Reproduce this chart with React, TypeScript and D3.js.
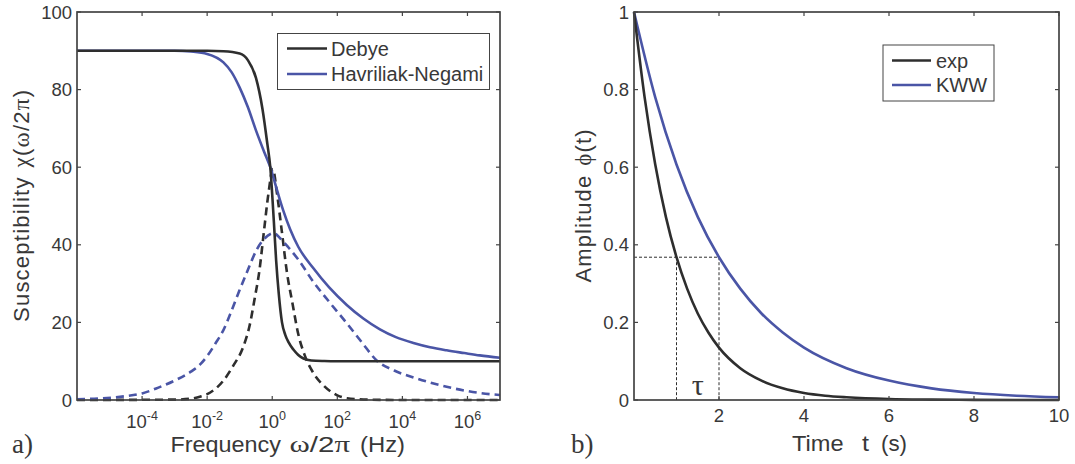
import React from "react";
import * as d3 from "d3";

// ---------- data ----------
// Left panel: x = log10(frequency / Hz), y = susceptibility
const debyeReal: [number, number][] = [
  [-6, 90], [-2, 90], [-1.5, 89.9], [-1, 89.3], [-0.75, 87.6], [-0.5, 83], [-0.3, 75],
  [-0.15, 66], [-0.06, 60], [0.05, 46], [0.12, 36], [0.2, 27.5], [0.3, 20], [0.4, 16.8],
  [0.5, 14.9], [0.65, 13.0], [0.8, 11.6], [0.96, 10.7], [1.2, 10.2], [1.6, 10.05], [2, 10], [7, 10],
];
const debyeImag: [number, number][] = [
  [-6, 0], [-3, 0.1], [-2.5, 0.35], [-2.2, 0.9], [-2, 1.5], [-1.5, 5.0], [-1.2, 8.8],
  [-0.89, 13.7], [-0.7, 19], [-0.53, 26.6], [-0.4, 33], [-0.25, 43.8], [-0.12, 53],
  [0.02, 59.5], [0.15, 53], [0.29, 43.8], [0.45, 33], [0.62, 25], [0.8, 17], [1.0, 11.5],
  [1.3, 6.5], [1.57, 3.8], [2.0, 1.2], [2.3, 0.45], [3, 0.1], [4, 0], [7, 0],
];
const hnReal: [number, number][] = [
  [-6, 90], [-3, 90], [-2.5, 89.8], [-2, 89.2], [-1.5, 87], [-1.25, 84.5], [-1, 80.5],
  [-0.75, 75.5], [-0.5, 69.5], [-0.25, 64], [-0.06, 60], [0.15, 54], [0.34, 48.8],
  [0.55, 44], [0.8, 39.5], [1.26, 34], [1.75, 29], [2.29, 24.5], [2.8, 21], [3.31, 18.2],
  [3.8, 16.2], [4.34, 14.7], [4.85, 13.6], [5.36, 12.8], [5.9, 12.1], [6.38, 11.5], [7, 10.9],
];
const hnImag: [number, number][] = [
  [-6, 0.2], [-5.3, 0.4], [-4.5, 1.0], [-4, 1.7], [-3.5, 3.2], [-3, 5.0], [-2.5, 7.3],
  [-2.2, 9.3], [-2, 11.3], [-1.75, 14.5], [-1.5, 18], [-1.25, 23], [-1, 28.4],
  [-0.75, 33.5], [-0.48, 38.7], [-0.25, 41.5], [0.05, 43], [0.24, 41.7], [0.5, 39.3],
  [0.8, 36.2], [1.26, 30.5], [1.75, 25.3], [2.29, 19.8], [2.75, 14.9], [3.21, 10.2],
  [3.75, 7.6], [4.34, 5.8], [4.85, 4.5], [5.36, 3.4], [6.38, 1.8], [7, 1.3],
];
const leftXTickExps = [-4, -2, 0, 2, 4, 6];
const leftYTicks = [0, 20, 40, 60, 80, 100];
const leftLegend = ["Debye", "Havriliak-Negami"];

// Right panel: x = time t (s), y = amplitude
const expDecay: [number, number][] = [
  [0, 1], [0.25, 0.78], [0.5, 0.607], [0.75, 0.472], [1, 0.368], [1.25, 0.287],
  [1.5, 0.223], [1.75, 0.174], [2, 0.135], [2.5, 0.082], [3, 0.05], [3.5, 0.03],
  [4, 0.018], [4.5, 0.011], [5, 0.007], [6, 0.0025], [7, 0.001], [8, 0.0003], [10, 0],
];
const kwwDecay: [number, number][] = [
  [0, 1], [0.5, 0.78], [1, 0.607], [1.5, 0.472], [2, 0.368], [2.5, 0.287], [3, 0.223],
  [3.5, 0.174], [4, 0.135], [5, 0.082], [6, 0.05], [7, 0.03], [8, 0.018], [9, 0.011],
  [10, 0.007],
];
const tauLevel = 0.368;
const tauTimes = [1, 2];
const rightXTicks = [2, 4, 6, 8, 10];
const rightYTicks = [0, 0.2, 0.4, 0.6, 0.8, 1];
const rightYTickLabels = ["0", "0.2", "0.4", "0.6", "0.8", "1"];
const rightLegend = ["exp", "KWW"];

// ---------- styles ----------
const BLACK = "#2e2e2e";
const BLUE = "#4a55a6";
const AXIS = "#444444";
const TEXT = "#383838";
const SANS = "'Liberation Sans', Arial, Helvetica, sans-serif";
const SERIF = "'Liberation Serif', 'Times New Roman', serif";
const TICK_FS = 18.5;
const LABEL_FS = 22;
const LEG_FS = 20;
const LW = 2.6;

export default function App() {
  const xL = d3.scaleLog().domain([1e-6, 1e7]).range([77, 500]);
  const yL = d3.scaleLinear().domain([0, 100]).range([400, 12]);
  const lineL = d3
    .line<[number, number]>()
    .x((d) => xL(Math.pow(10, d[0])))
    .y((d) => yL(d[1]))
    .curve(d3.curveMonotoneX);

  const xR = d3.scaleLinear().domain([0, 10]).range([634, 1059]);
  const yR = d3.scaleLinear().domain([0, 1]).range([400, 12]);
  const lineR = d3
    .line<[number, number]>()
    .x((d) => xR(d[0]))
    .y((d) => yR(d[1]))
    .curve(d3.curveMonotoneX);

  const TL = 4;

  const box = (x0: number, x1: number, y0: number, y1: number) => (
    <rect x={x0} y={y1} width={x1 - x0} height={y0 - y1} fill="none" stroke={AXIS} strokeWidth={1.7} />
  );

  const [lx0, lx1] = xL.range();
  const [ly0, ly1] = yL.range();
  const [rx0, rx1] = xR.range();
  const [ry0, ry1] = yR.range();

  const piece = (
    key: string,
    x: number,
    y: number,
    len: number,
    content: React.ReactNode,
    family: string = SANS
  ) => (
    <text
      key={key}
      x={x}
      y={y}
      fontSize={LABEL_FS}
      fontFamily={family}
      fill={TEXT}
      textLength={len}
      lengthAdjust="spacingAndGlyphs"
    >
      {content}
    </text>
  );

  return (
    <svg
      width={1075}
      height={464}
      style={{ position: "absolute", left: 0, top: 0, background: "#fff" }}
      fontFamily={SANS}
    >
      <rect x={0} y={0} width={1075} height={464} fill="#fff" />

      {/* ================= LEFT PANEL ================= */}
      <g>
        <path d={lineL(debyeImag) || ""} fill="none" stroke={BLACK} strokeWidth={LW} strokeDasharray="8,5" />
        <path d={lineL(hnImag) || ""} fill="none" stroke={BLUE} strokeWidth={LW} strokeDasharray="8,5" />
        <path d={lineL(hnReal) || ""} fill="none" stroke={BLUE} strokeWidth={LW} />
        <path d={lineL(debyeReal) || ""} fill="none" stroke={BLACK} strokeWidth={LW} />

        {box(lx0, lx1, ly0, ly1)}
        {leftXTickExps.map((e) => {
          const x = xL(Math.pow(10, e));
          return (
            <g key={"lx" + e}>
              <line x1={x} x2={x} y1={ly0} y2={ly0 - TL} stroke={AXIS} strokeWidth={1.2} />
              <line x1={x} x2={x} y1={ly1} y2={ly1 + TL} stroke={AXIS} strokeWidth={1.2} />
              <text x={x} y={428} textAnchor="middle" fontSize={TICK_FS} fill={TEXT}>
                10
                <tspan dy={-8} fontSize={12.5}>{String(e)}</tspan>
              </text>
            </g>
          );
        })}
        {leftYTicks.map((v) => {
          const y = yL(v);
          return (
            <g key={"ly" + v}>
              <line x1={lx0} x2={lx0 + TL} y1={y} y2={y} stroke={AXIS} strokeWidth={1.2} />
              <line x1={lx1} x2={lx1 - TL} y1={y} y2={y} stroke={AXIS} strokeWidth={1.2} />
              <text x={72} y={y} dy="0.36em" textAnchor="end" fontSize={TICK_FS} fill={TEXT}>
                {v}
              </text>
            </g>
          );
        })}
        <rect x={277.5} y={33.5} width={212} height={56} fill="#fff" stroke={AXIS} strokeWidth={1} />
        {leftLegend.map((name, i) => {
          const y = 48.5 + i * 25.5;
          return (
            <g key={name}>
              <line x1={287} x2={327} y1={y} y2={y} stroke={i === 0 ? BLACK : BLUE} strokeWidth={LW} />
              <text x={331} y={y} dy="0.36em" fontSize={LEG_FS} fill={TEXT}>
                {name}
              </text>
            </g>
          );
        })}
        {/* x label: Frequency ω/2π (Hz) */}
        {piece("f1", 170.5, 452, 110.5, "Frequency")}
        <text x={289.5} y={452} fontSize={LABEL_FS} fill={TEXT} textLength={60.5} lengthAdjust="spacingAndGlyphs">
          <tspan fontFamily={SERIF} fontSize={LABEL_FS + 1}>ω</tspan>
          <tspan>/2</tspan>
          <tspan fontFamily={SERIF} fontSize={LABEL_FS + 1}>π</tspan>
        </text>
        {piece("f3", 360, 452, 45, "(Hz)")}
        {/* y label */}
        <text
          transform={`translate(29, ${(ly0 + ly1) / 2}) rotate(-90)`}
          textAnchor="middle"
          fontSize={LABEL_FS}
          fill={TEXT}
          textLength={232}
          lengthAdjust="spacing"
        >
          <tspan>Susceptibility</tspan>
          <tspan dx={9} fontFamily={SERIF} fontSize={LABEL_FS + 1}>χ</tspan>
          <tspan>(</tspan>
          <tspan fontFamily={SERIF} fontSize={LABEL_FS + 1}>ω</tspan>
          <tspan>/2</tspan>
          <tspan fontFamily={SERIF} fontSize={LABEL_FS + 1}>π</tspan>
          <tspan>)</tspan>
        </text>
        <text x={12} y={453} fontFamily={SERIF} fontSize={27} fill={TEXT}>
          a)
        </text>
      </g>

      {/* ================= RIGHT PANEL ================= */}
      <g>
        <line
          x1={rx0}
          x2={xR(tauTimes[1])}
          y1={yR(tauLevel)}
          y2={yR(tauLevel)}
          stroke={BLACK}
          strokeWidth={1}
          strokeDasharray="3,2"
        />
        {tauTimes.map((t) => (
          <line
            key={"tau" + t}
            x1={xR(t)}
            x2={xR(t)}
            y1={yR(tauLevel)}
            y2={ry0}
            stroke={BLACK}
            strokeWidth={1}
            strokeDasharray="3,2"
          />
        ))}
        <text
          x={(xR(tauTimes[0]) + xR(tauTimes[1])) / 2}
          y={395}
          textAnchor="middle"
          fontFamily={SERIF}
          fontSize={30}
          fill={TEXT}
        >
          τ
        </text>

        <path d={lineR(kwwDecay) || ""} fill="none" stroke={BLUE} strokeWidth={LW} />
        <path d={lineR(expDecay) || ""} fill="none" stroke={BLACK} strokeWidth={LW} />

        {box(rx0, rx1, ry0, ry1)}
        {rightXTicks.map((v) => {
          const x = xR(v);
          return (
            <g key={"rx" + v}>
              <line x1={x} x2={x} y1={ry0} y2={ry0 - TL} stroke={AXIS} strokeWidth={1.2} />
              <line x1={x} x2={x} y1={ry1} y2={ry1 + TL} stroke={AXIS} strokeWidth={1.2} />
              <text x={x} y={422} textAnchor="middle" fontSize={TICK_FS} fill={TEXT}>
                {v}
              </text>
            </g>
          );
        })}
        {rightYTicks.map((v, i) => {
          const y = yR(v);
          return (
            <g key={"ry" + v}>
              <line x1={rx0} x2={rx0 + TL} y1={y} y2={y} stroke={AXIS} strokeWidth={1.2} />
              <line x1={rx1} x2={rx1 - TL} y1={y} y2={y} stroke={AXIS} strokeWidth={1.2} />
              <text x={629} y={y} dy="0.36em" textAnchor="end" fontSize={TICK_FS} fill={TEXT}>
                {rightYTickLabels[i]}
              </text>
            </g>
          );
        })}
        <rect x={883} y={45} width={111} height={56} fill="#fff" stroke={AXIS} strokeWidth={1} />
        {rightLegend.map((name, i) => {
          const y = 60.5 + i * 24.5;
          return (
            <g key={name}>
              <line x1={892} x2={931} y1={y} y2={y} stroke={i === 0 ? BLACK : BLUE} strokeWidth={LW} />
              <text x={936} y={y} dy="0.36em" fontSize={LEG_FS} fill={TEXT}>
                {name}
              </text>
            </g>
          );
        })}
        {/* x label: Time t (s) */}
        {piece("t1", 792, 451, 51.5, "Time")}
        {piece("t2", 862, 451, 7, "t")}
        {piece("t3", 881, 451, 26, "(s)")}
        <text
          transform={`translate(591, ${(ry0 + ry1) / 2}) rotate(-90)`}
          textAnchor="middle"
          fontSize={LABEL_FS}
          fill={TEXT}
          textLength={153}
          lengthAdjust="spacing"
        >
          <tspan>Amplitude</tspan>
          <tspan dx={9} fontFamily={SERIF} fontSize={LABEL_FS + 1}>ϕ</tspan>
          <tspan>(t)</tspan>
        </text>
        <text x={571} y={453} fontFamily={SERIF} fontSize={27} fill={TEXT}>
          b)
        </text>
      </g>
    </svg>
  );
}
